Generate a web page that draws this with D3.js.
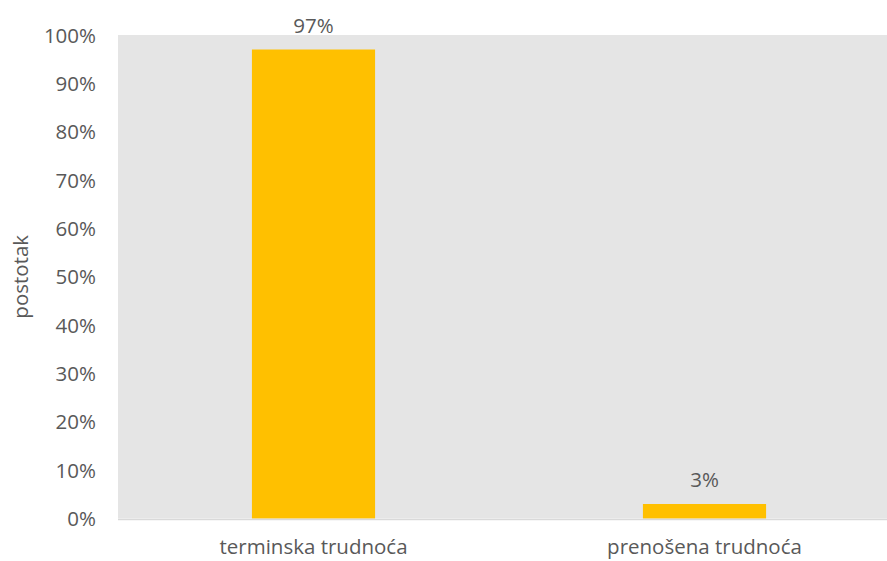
<!DOCTYPE html>
<html><head><meta charset="utf-8">
<script src="https://cdn.jsdelivr.net/npm/d3@7"></script>
<style>body{margin:0;background:#fff}text{font-family:"Open Sans",sans-serif;fill:#595959}</style>
</head><body><svg id="c" width="887" height="561"></svg>
<script>
const categories = ["terminska trudnoća", "prenošena trudnoća"];
const values = [0.97, 0.03];
const valueLabels = ["97%", "3%"];
const yTicks = [0,0.1,0.2,0.3,0.4,0.5,0.6,0.7,0.8,0.9,1.0];
const yTitle = "postotak";

const svg = d3.select("#c");
const m = {left:118, top:35, right:900, bottom:518.5};
const fs = 20.5;
const x = d3.scaleBand().domain(categories).range([m.left, m.right]).paddingInner(0.685).paddingOuter(0.3425);
const y = d3.scaleLinear().domain([0,1]).range([m.bottom, m.top]);

svg.append("rect").attr("x",m.left).attr("y",m.top).attr("width",m.right-m.left).attr("height",m.bottom-m.top).attr("fill","#e5e5e5");

svg.append("g").selectAll("rect").data(values).join("rect")
  .attr("x",(d,i)=>x(categories[i])).attr("width",x.bandwidth())
  .attr("y",d=>y(d)).attr("height",d=>y(0)-y(d)).attr("fill","#ffc000");

svg.append("line").attr("x1",m.left).attr("x2",m.right).attr("y1",y(0)+1).attr("y2",y(0)+1).attr("stroke","#d9d9d9").attr("stroke-width",1.3);

const yAxis = svg.append("g").attr("transform",`translate(${m.left},0)`)
  .call(d3.axisLeft(y).tickValues(yTicks).tickFormat(d3.format(".0%")).tickSize(0).tickPadding(22));
yAxis.select(".domain").remove();
yAxis.selectAll("text").attr("font-size",fs).attr("fill","#595959").attr("font-family","Open Sans").attr("dy","0.35em");

const xAxis = svg.append("g").attr("transform",`translate(0,${m.bottom})`)
  .call(d3.axisBottom(x).tickSize(0).tickPadding(21));
xAxis.select(".domain").remove();
xAxis.selectAll("text").attr("font-size",fs).attr("fill","#595959").attr("font-family","Open Sans");

svg.append("g").selectAll("text").data(values).join("text")
  .attr("x",(d,i)=>x(categories[i])+x.bandwidth()/2).attr("y",d=>y(d)-17)
  .attr("text-anchor","middle").attr("font-size",fs).attr("fill","#404040").text((d,i)=>valueLabels[i]);

svg.append("text").attr("transform",`translate(28,${(m.top+m.bottom)/2}) rotate(-90)`)
  .attr("text-anchor","middle").attr("font-size",fs).text(yTitle);
</script></body></html>
